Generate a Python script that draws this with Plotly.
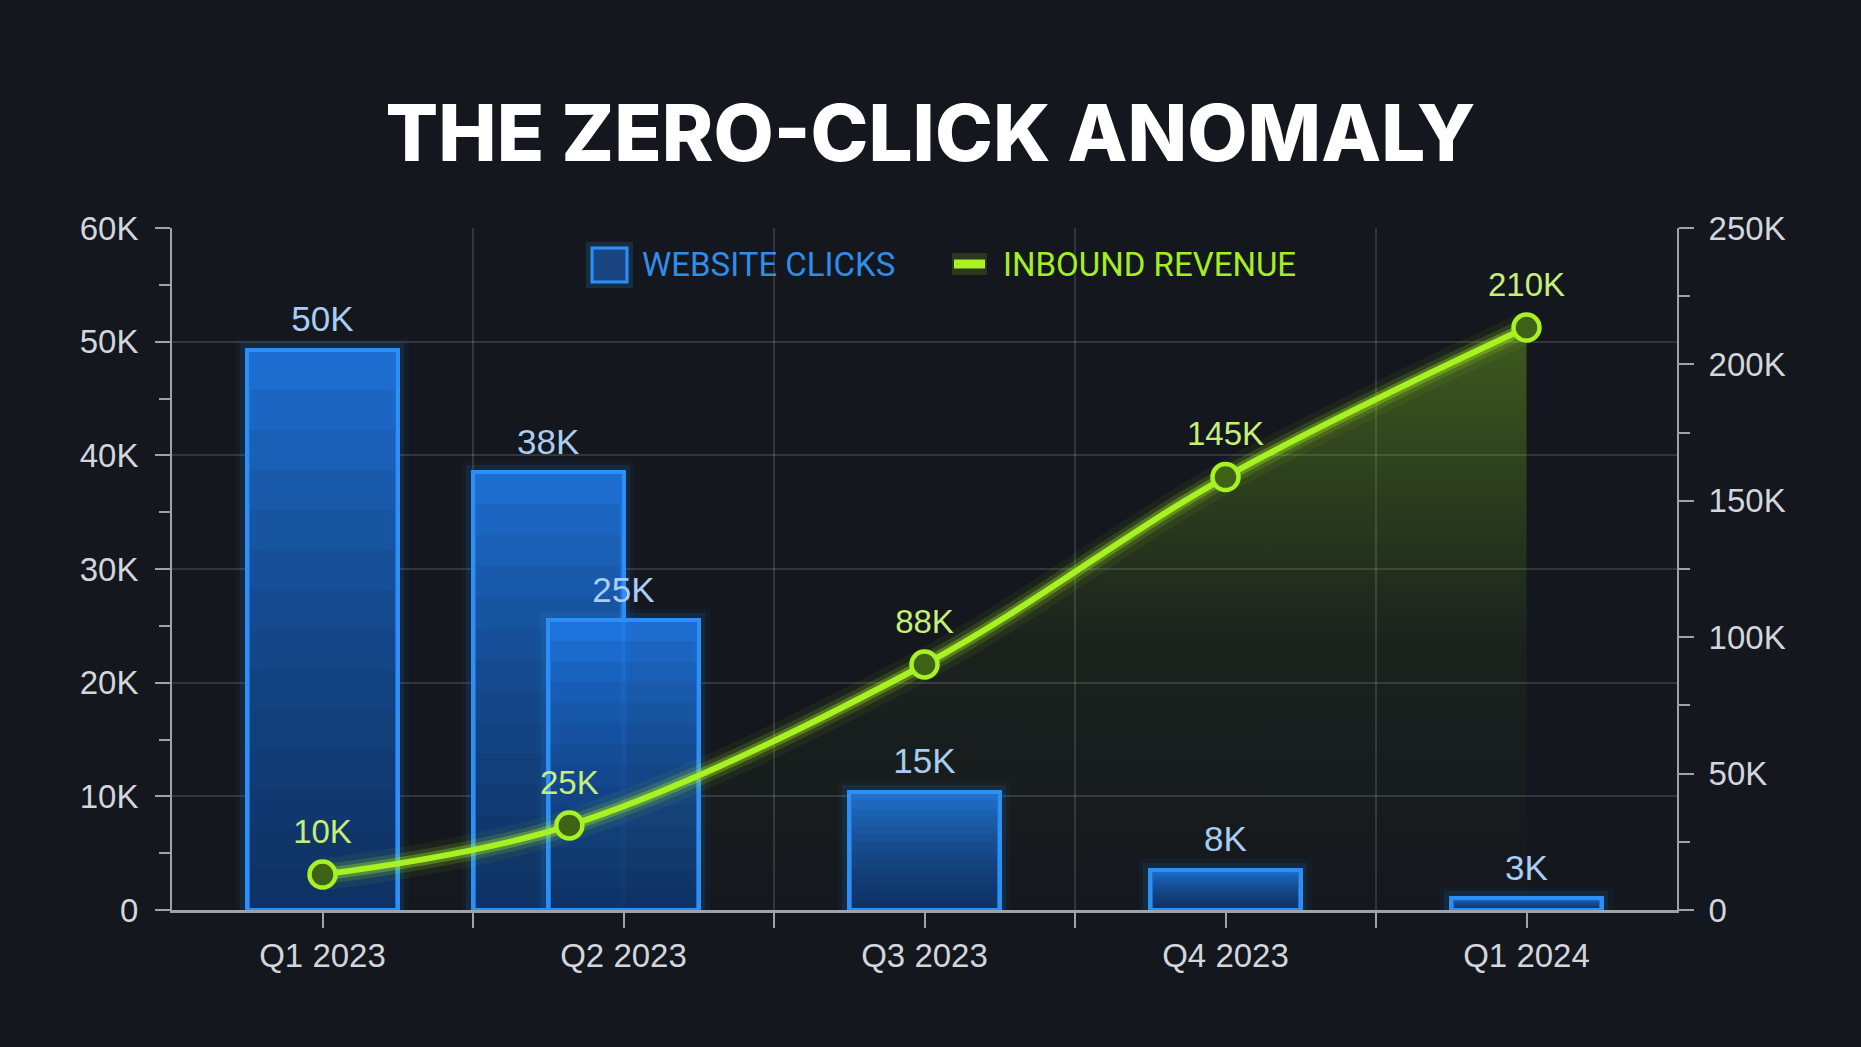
import plotly.graph_objects as go

# ---------------- data ----------------
categories = ["Q1 2023", "Q2 2023", "Q3 2023", "Q4 2023", "Q1 2024"]
cat_pos = [0, 1, 2, 3, 4]

# website clicks bars (an extra bar sits between Q1 and Q2)
click_x = [0, 0.75, 1, 2, 3, 4]
click_values = [49300, 38500, 25500, 10400, 3550, 1050]
click_labels = ["50K", "38K", "25K", "15K", "8K", "3K"]

# inbound revenue line
rev_x = [0, 0.82, 2, 3, 4]
rev_values = [13000, 31000, 90000, 158700, 213500]
rev_labels = ["10K", "25K", "88K", "145K", "210K"]

left_ticks = [0, 10000, 20000, 30000, 40000, 50000, 60000]
left_ticktext = ["0", "10K", "20K", "30K", "40K", "50K", "60K"]
right_ticks = [0, 50000, 100000, 150000, 200000, 250000]
right_ticktext = ["0", "50K", "100K", "150K", "200K", "250K"]

# ---------------- style ----------------
BG = "#14171d"
BLUE = "#2b8ff5"
BLUE_FILL = "rgba(30,118,226,0.9)"
GREEN = "#a8f224"
AX = "#9ea3aa"
GRID = "rgba(255,255,255,0.13)"
LABEL_FAMILY = "Liberation Sans, Arial, sans-serif"
TICKFONT = dict(family=LABEL_FAMILY, size=33, color="#d2d6dc")

W, H = 1861, 1047
L, R, T, B = 172, 1861 - 1677, 228, 1047 - 910

fig = go.Figure()

BAR_W = 0.5
GRAD_STEPS = [i / 14 for i in range(13, 0, -1)]

# each bar drawn as a full stack (glow, fill, gradient, outline) so later bars cover earlier ones
for xv, yv in zip(click_x, click_values):
    for lw, a in [(22, 0.05), (13, 0.1)]:
        fig.add_trace(go.Bar(
            x=[xv], y=[yv], width=BAR_W,
            marker=dict(color="rgba(0,0,0,0)", line=dict(color=f"rgba(43,143,245,{a})", width=lw)),
            hoverinfo="skip", showlegend=False))
    fig.add_trace(go.Bar(
        x=[xv], y=[yv], width=BAR_W,
        marker=dict(color=BLUE_FILL, line=dict(width=0)),
        hoverinfo="skip", showlegend=False))
    for f in GRAD_STEPS:
        fig.add_trace(go.Bar(
            x=[xv], y=[yv * f], width=BAR_W - 0.02,
            marker=dict(color="rgba(12,26,52,0.08)", line=dict(width=0)),
            hoverinfo="skip", showlegend=False))
    fig.add_trace(go.Bar(
        x=[xv], y=[yv], width=BAR_W,
        marker=dict(color="rgba(0,0,0,0)", line=dict(color=BLUE, width=4)),
        hoverinfo="skip", showlegend=False))

# bar value labels
fig.add_trace(go.Scatter(
    x=click_x, y=click_values, mode="markers+text",
    marker=dict(size=14, color="rgba(0,0,0,0)"),
    text=click_labels, textposition="top center", cliponaxis=False,
    textfont=dict(family=LABEL_FAMILY, size=35, color="#a9cdf5"),
    hoverinfo="skip", showlegend=False))

# revenue fill under curve
fig.add_trace(go.Scatter(
    x=rev_x, y=rev_values, yaxis="y2", mode="lines",
    line=dict(shape="spline", smoothing=1.0, width=0, color="rgba(0,0,0,0)"),
    fill="tozeroy",
    fillgradient=dict(type="vertical",
                      colorscale=[[0, "rgba(130,200,30,0.0)"], [0.45, "rgba(130,200,30,0.06)"],
                                  [1, "rgba(130,200,30,0.38)"]]),
    hoverinfo="skip", showlegend=False))

# line glow
for lw, a in [(32, 0.06), (20, 0.15), (12, 0.32)]:
    fig.add_trace(go.Scatter(
        x=rev_x, y=rev_values, yaxis="y2", mode="lines",
        line=dict(shape="spline", smoothing=1.0, width=lw, color=f"rgba(168,242,36,{a})"),
        hoverinfo="skip", showlegend=False))

# main line with markers
fig.add_trace(go.Scatter(
    x=rev_x, y=rev_values, yaxis="y2", mode="lines+markers", name="INBOUND REVENUE",
    line=dict(shape="spline", smoothing=1.0, width=6, color=GREEN),
    marker=dict(size=26, color="#3f6316", line=dict(color=GREEN, width=4.5)),
    showlegend=False))

# revenue labels
fig.add_trace(go.Scatter(
    x=rev_x, y=rev_values, yaxis="y2", mode="markers+text",
    marker=dict(size=36, color="rgba(0,0,0,0)"),
    text=rev_labels, textposition="top center", cliponaxis=False,
    textfont=dict(family=LABEL_FAMILY, size=33, color="#c6ee78"),
    hoverinfo="skip", showlegend=False))

# ---------------- manual legend ----------------
def px_x(p):
    return (p - L) / (W - L - R)

def px_y(p):
    return (H - B - p) / (H - T - B)

shapes = [
    dict(type="rect", xref="paper", yref="paper",
         x0=px_x(590), x1=px_x(629), y0=px_y(284), y1=px_y(246),
         line=dict(color="rgba(43,143,245,0.18)", width=8), fillcolor="rgba(0,0,0,0)"),
    dict(type="rect", xref="paper", yref="paper",
         x0=px_x(592), x1=px_x(627), y0=px_y(282), y1=px_y(248),
         line=dict(color=BLUE, width=3), fillcolor="rgba(29,100,200,0.6)"),
    dict(type="line", xref="paper", yref="paper",
         x0=px_x(952), x1=px_x(987), y0=px_y(264), y1=px_y(264),
         line=dict(color="rgba(168,242,36,0.15)", width=22)),
    dict(type="line", xref="paper", yref="paper",
         x0=px_x(954), x1=px_x(985), y0=px_y(264), y1=px_y(264),
         line=dict(color=GREEN, width=9)),
]

annotations = [
    dict(text="WEBSITE CLICKS", xref="paper", yref="paper", x=px_x(640), y=px_y(264),
         xanchor="left", yanchor="middle", showarrow=False,
         font=dict(family="Roboto, sans-serif", size=33, color="#2f8ee9")),
    dict(text="INBOUND REVENUE", xref="paper", yref="paper", x=px_x(1001), y=px_y(264),
         xanchor="left", yanchor="middle", showarrow=False,
         font=dict(family="Roboto, sans-serif", size=33, color="#a6ee22")),
]

fig.update_layout(
    width=W, height=H,
    margin=dict(l=L, r=R, t=T, b=B, autoexpand=False),
    paper_bgcolor=BG, plot_bgcolor=BG,
    barmode="overlay", bargap=0,
    showlegend=False,
    title=dict(text="THE ZERO-CLICK ANOMALY", x=0.5, xanchor="center",
               y=1 - 134 / H, yanchor="middle", yref="container",
               font=dict(family="Inter, Open Sans, sans-serif", size=78, color="#ffffff", weight=800)),
    xaxis=dict(range=[-0.5, 4.5], tickmode="array", tickvals=cat_pos, ticktext=categories,
               ticks="outside", ticklen=15, tickwidth=1.5, tickcolor=AX,
               showline=True, linecolor=AX, linewidth=2.5,
               showgrid=False, zeroline=False, tickfont=TICKFONT, ticklabelstandoff=0,
               minor=dict(tickvals=[0.5, 1.5, 2.5, 3.5], ticks="outside", ticklen=15,
                          tickcolor=AX, tickwidth=1.5, showgrid=True, gridcolor=GRID, gridwidth=1.5),
               fixedrange=True),
    yaxis=dict(range=[0, 60000], tickmode="array", tickvals=left_ticks, ticktext=left_ticktext,
               ticks="outside", ticklen=15, tickwidth=1.5, tickcolor=AX,
               showline=True, linecolor=AX, linewidth=2,
               showgrid=True, gridcolor=GRID, gridwidth=1.5, zeroline=False, tickfont=TICKFONT,
               ticklabelstandoff=10,
               minor=dict(dtick=5000, tick0=0, ticks="outside", ticklen=11, tickcolor=AX,
                          tickwidth=1.5, showgrid=False),
               fixedrange=True),
    yaxis2=dict(range=[0, 250000], overlaying="y", side="right", tickmode="array",
                tickvals=right_ticks, ticktext=right_ticktext,
                ticks="outside", ticklen=15, tickwidth=1.5, tickcolor=AX,
                showline=True, linecolor=AX, linewidth=2,
                showgrid=False, zeroline=False, tickfont=TICKFONT, ticklabelstandoff=8,
                minor=dict(dtick=25000, tick0=0, ticks="outside", ticklen=11, tickcolor=AX,
                           tickwidth=1.5, showgrid=False),
                fixedrange=True),
    shapes=shapes,
    annotations=annotations,
)

fig.write_html(
    "out.html",
    config={"displayModeBar": False},
    post_script="document.body.style.margin='0';document.body.style.background='#14171d';",
)
